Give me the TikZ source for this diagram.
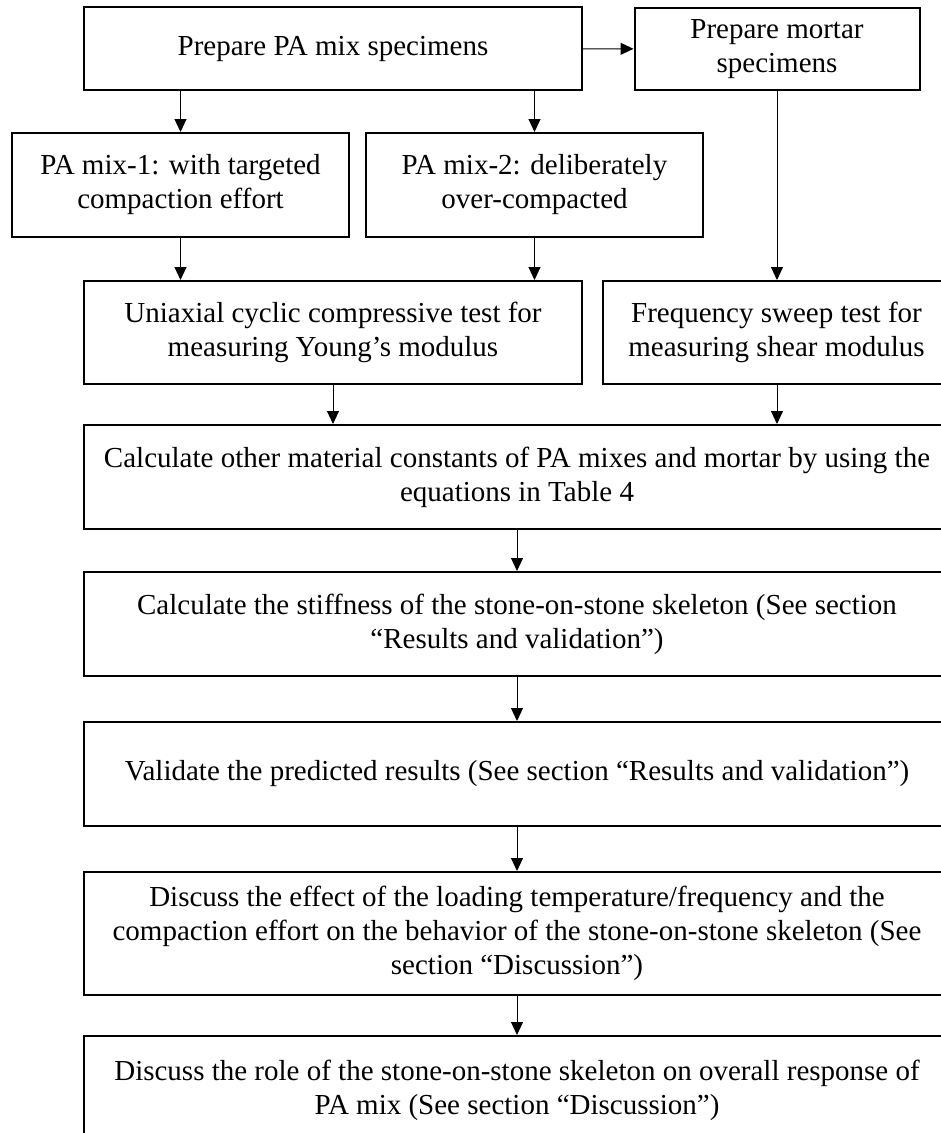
\documentclass[tikz,border=0pt]{standalone}
\usepackage{fontspec}
\setmainfont{Liberation Serif}
\usetikzlibrary{arrows.meta}

\begin{document}
\begin{tikzpicture}[x=1pt, y=-1pt, >={Triangle[length=13pt, width=12pt]},
  every node/.style={font=\fontsize{29}{34}\selectfont}]
  % Define styles
  \tikzstyle{box} = [rectangle, draw=black, line width=2pt, inner sep=0pt, align=center]
  \tikzstyle{link} = [->, line width=1pt]

  \useasboundingbox (0,0) rectangle (941,1133);
  \clip (0,0) rectangle (941,1133);

  % Nodes
  \node[box, minimum width=498pt, minimum height=83pt] (prep) at (333,48.5) {Prepare PA mix specimens};
  \node[box, minimum width=285pt, minimum height=82pt] (mortar) at (777,49) {Prepare mortar\\specimens};
  \node[box, minimum width=337pt, minimum height=104pt] (mixone) at (180.5,185) {PA mix-1: with targeted\\compaction effort};
  \node[box, minimum width=337pt, minimum height=104pt] (mixtwo) at (534.5,185) {PA mix-2: deliberately\\over-compacted};
  \node[box, minimum width=498pt, minimum height=103pt] (uniax) at (333,332.5) {Uniaxial cyclic compressive test for\\measuring Young's modulus};
  \node[box, minimum width=347pt, minimum height=103pt] (freq) at (776.5,332.5) {Frequency sweep test for\\measuring shear modulus};
  \node[box, minimum width=866pt, minimum height=104pt] (calc) at (517,477) {Calculate other material constants of PA mixes and mortar by using the\\equations in Table 4};
  \node[box, minimum width=866pt, minimum height=104pt] (stiff) at (517,624) {Calculate the stiffness of the stone-on-stone skeleton (See section\\``Results and validation'')};
  \node[box, minimum width=866pt, minimum height=104pt] (valid) at (517,774) {Validate the predicted results (See section ``Results and validation'')};
  \node[box, minimum width=866pt, minimum height=123pt] (effect) at (517,933.5) {Discuss the effect of the loading temperature/frequency and the\\compaction effort on the behavior of the stone-on-stone skeleton (See\\section ``Discussion'')};
  \node[box, minimum width=866pt, minimum height=109pt] (role) at (517,1090.5) {Discuss the role of the stone-on-stone skeleton on overall response of\\PA mix (See section ``Discussion'')};

  % Arrows
  \draw[link] (prep) -- (mortar);
  \draw[link] (prep.south -| mixone.north) -- (mixone.north);
  \draw[link] (prep.south -| mixtwo.north) -- (mixtwo.north);
  \draw[link] (mortar.south) -- (mortar.south |- freq.north);
  \draw[link] (mixone.south) -- (mixone.south |- uniax.north);
  \draw[link] (mixtwo.south) -- (mixtwo.south |- uniax.north);
  \draw[link] (uniax.south) -- (uniax.south |- calc.north);
  \draw[link] (freq.south -| mortar.south) -- (mortar.south |- calc.north);
  \draw[link] (calc) -- (stiff);
  \draw[link] (stiff) -- (valid);
  \draw[link] (valid) -- (effect);
  \draw[link] (effect) -- (role);
\end{tikzpicture}
\end{document}
